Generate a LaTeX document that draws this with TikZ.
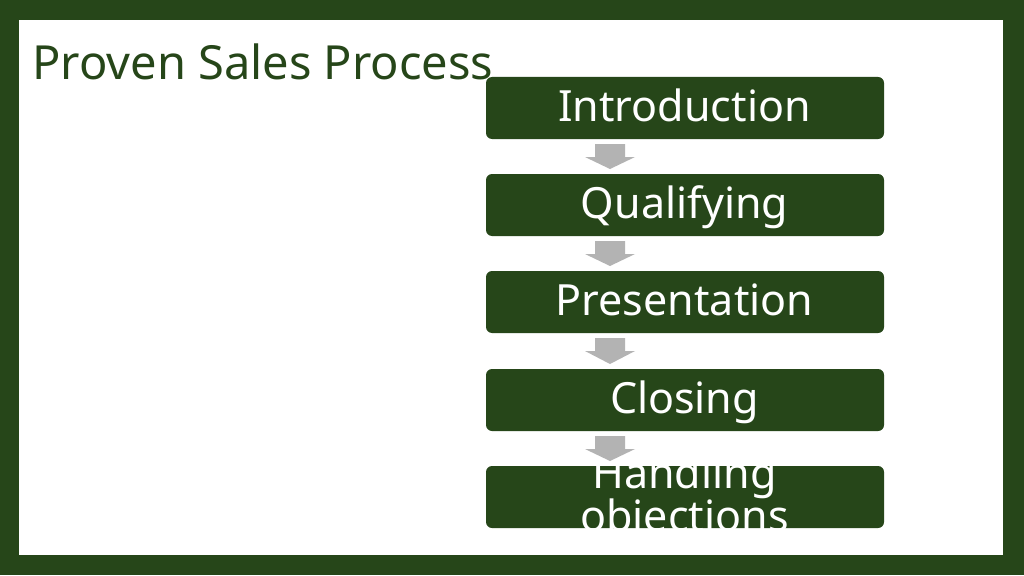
\documentclass[tikz,border=0pt]{standalone}
\usepackage{fontspec}
\setmainfont{Noto Sans}
\usetikzlibrary{calc}
\definecolor{dkgreen}{HTML}{264619}
\definecolor{arrgray}{HTML}{B3B3B3}
\tikzset{
  stepbox/.style={fill=dkgreen, rounded corners=6pt},
  steptext/.style={text=white, font=\fontsize{43}{43}\selectfont, inner sep=0pt, anchor=base},
  downarrow/.style={fill=arrgray},
}
\begin{document}
\begin{tikzpicture}[x=1pt,y=-1pt]
\useasboundingbox (0,0) rectangle (1024,575);
\fill[dkgreen] (0,0) rectangle (1024,575);
\fill[white] (19,20) rectangle (1003,555);
\node[anchor=base west, inner sep=0pt, text=dkgreen, font=\fontsize{47}{50}\selectfont] (title) at (32,80) {Proven Sales Process};
% boxes
\foreach \n/\t in {b1/77,b2/174,b3/271,b4/369,b5/466}{
  \fill[stepbox] (486,\t) rectangle (884,\t+62);
  \coordinate (\n top) at (610,\t);
  \coordinate (\n bot) at (610,\t+62);
}
\node[steptext] (t1) at (684.5,121.7) {Introduction};
\node[steptext] (t2) at (684.5,218.7) {Qualifying};
\node[steptext] (t3) at (684.5,315.7) {Presentation};
\node[steptext] (t4) at (684.5,413.7) {Closing};
\begin{scope}
\clip[rounded corners=6pt] (486,466) rectangle (884,528);
\node[steptext, align=center, anchor=base] (t5) at (684.5,531) {Handling\\objections};
\end{scope}
% arrows
\foreach \a/\b in {b1/b2,b2/b3,b3/b4,b4/b5}{
  \fill[downarrow] ($(\a bot)+(-15,5)$) -- ($(\a bot)+(15,5)$) -- ($(\a bot)+(15,18)$) -- ($(\a bot)+(25,18)$) -- ($(\b top)+(0,-5)$) -- ($(\a bot)+(-25,18)$) -- ($(\a bot)+(-15,18)$) -- cycle;
}
\end{tikzpicture}
\end{document}
